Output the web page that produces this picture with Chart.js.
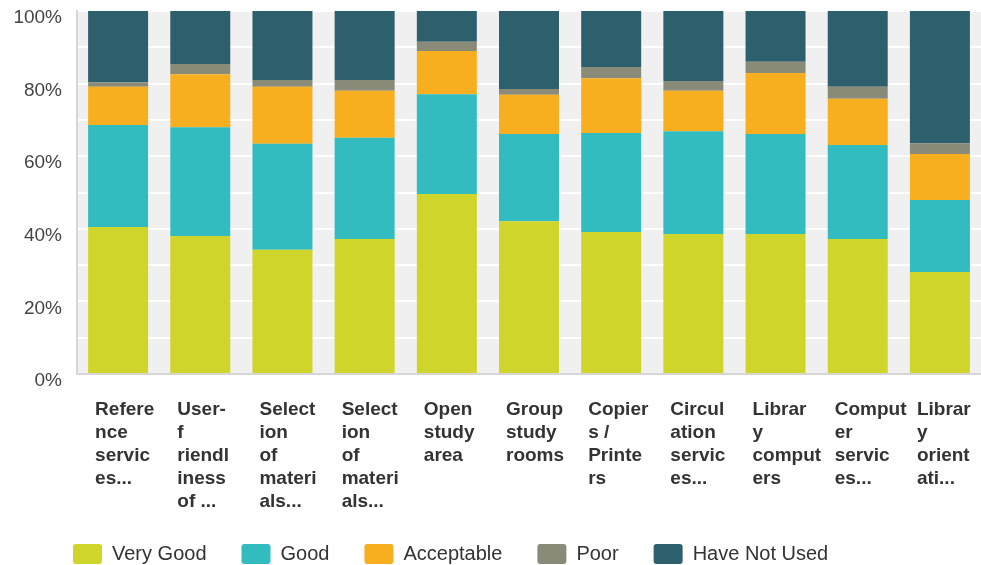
<!DOCTYPE html>
<html>
<head>
<meta charset="utf-8">
<script src="https://cdn.jsdelivr.net/npm/chart.js@4.4.1/dist/chart.umd.min.js"></script>
<style>
  html, body { margin: 0; padding: 0; background: #fff; }
  #wrap { width: 981px; height: 565px; position: relative; }
</style>
</head>
<body>
<div id="wrap"><canvas id="canvas_0"></canvas></div>
<script>
// survey answers, percent of responses per service
var labels = [
    ['Refere', 'nce', 'servic', 'es...'],
    ['User-', 'f', 'riendl', 'iness', 'of ...'],
    ['Select', 'ion', 'of', 'materi', 'als...'],
    ['Select', 'ion', 'of', 'materi', 'als...'],
    ['Open', 'study', 'area'],
    ['Group', 'study', 'rooms'],
    ['Copier', 's /', 'Printe', 'rs'],
    ['Circul', 'ation', 'servic', 'es...'],
    ['Librar', 'y', 'comput', 'ers'],
    ['Comput', 'er', 'servic', 'es...'],
    ['Librar', 'y', 'orient', 'ati...']
];
var very_good = [40.5, 38.0, 34.2, 37.2, 49.6, 42.1, 39.1, 38.6, 38.6, 37.2, 28.1];
var good = [28.1, 30.0, 29.2, 27.9, 27.5, 24.0, 27.3, 28.3, 27.5, 25.9, 19.8];
var acceptable = [10.5, 14.6, 15.7, 12.9, 11.9, 10.8, 15.1, 11.1, 16.8, 12.7, 12.7];
var poor = [1.3, 2.8, 1.9, 3.0, 2.5, 1.6, 3.1, 2.7, 3.1, 3.3, 3.0];
var have_not_used = [19.6, 14.6, 19.0, 19.0, 8.5, 21.5, 15.4, 19.3, 14.0, 20.9, 36.4];
var y_ticks = ['0%', '20%', '40%', '60%', '80%', '100%'];

var font_name = '"Liberation Sans", Arial, Helvetica, sans-serif';

function make_set(label, data, color) {
    return {label: label, data: data, backgroundColor: color, borderWidth: 0,
        barPercentage: 0.73, categoryPercentage: 1.0};
}

// grey plot background behind the bars
var plot_bg = {
    id: 'plot_bg',
    afterLayout: function (chart) {
        // let the y tick labels spill into the left padding without being clipped
        var y = chart.scales.y;
        y.left = 0;
        y.width = y.right;
    },
    beforeDraw: function (chart) {
        var a = chart.chartArea;
        var ctx = chart.ctx;
        ctx.save();
        ctx.fillStyle = '#f0f0f0';
        ctx.fillRect(a.left, a.top, a.right - a.left, a.bottom - a.top);
        ctx.restore();
    }
};

var ctx = document.getElementById('canvas_0');
var myChart = new Chart(ctx, {
    type: 'bar',
    data: {
        labels: labels,
        datasets: [
            make_set('Very Good', very_good, '#cfd52a'),
            make_set('Good', good, '#33bcbf'),
            make_set('Acceptable', acceptable, '#f7af1f'),
            make_set('Poor', poor, '#8a8a78'),
            make_set('Have Not Used', have_not_used, '#2e5f6c')
        ]
    },
    options: {
        responsive: true,
        maintainAspectRatio: false,
        animation: false,
        layout: {padding: {left: 38, top: 11, right: 0, bottom: 0}},
        plugins: {
            tooltip: {enabled: false},
            legend: {
                position: 'bottom',
                align: 'start',
                maxHeight: 56,
                labels: {
                    boxWidth: 29, boxHeight: 20, padding: 35,
                    useBorderRadius: true, borderRadius: 3,
                    color: '#333', font: {family: font_name, size: 20}
                }
            }
        },
        scales: {
            x: {
                stacked: true,
                grid: {display: false, drawTicks: false},
                border: {color: '#d6d6d6', width: 2},
                ticks: {
                    align: 'start', labelOffset: -23, padding: 24,
                    autoSkip: false, maxRotation: 0, minRotation: 0,
                    color: '#333',
                    font: {family: font_name, size: 19, weight: 'bold', lineHeight: 1.21}
                },
                afterFit: function (axis) {
                    axis.height = 135;
                    axis.paddingLeft = 0;
                    axis.paddingRight = 0;
                }
            },
            y: {
                stacked: true,
                min: 0, max: 100,
                grid: {color: '#ffffff', lineWidth: 2, drawTicks: false},
                border: {color: '#d6d6d6', width: 2},
                ticks: {
                    stepSize: 10, padding: 15, labelOffset: 7,
                    color: '#444',
                    font: {family: font_name, size: 19},
                    callback: function (value) {
                        return value % 20 === 0 ? y_ticks[value / 20] : '';
                    }
                },
                afterFit: function (axis) {
                    axis.width = 39;
                    axis.paddingTop = 0;
                    axis.paddingBottom = 0;
                }
            }
        }
    },
    plugins: [plot_bg]
});
</script>
</body>
</html>
